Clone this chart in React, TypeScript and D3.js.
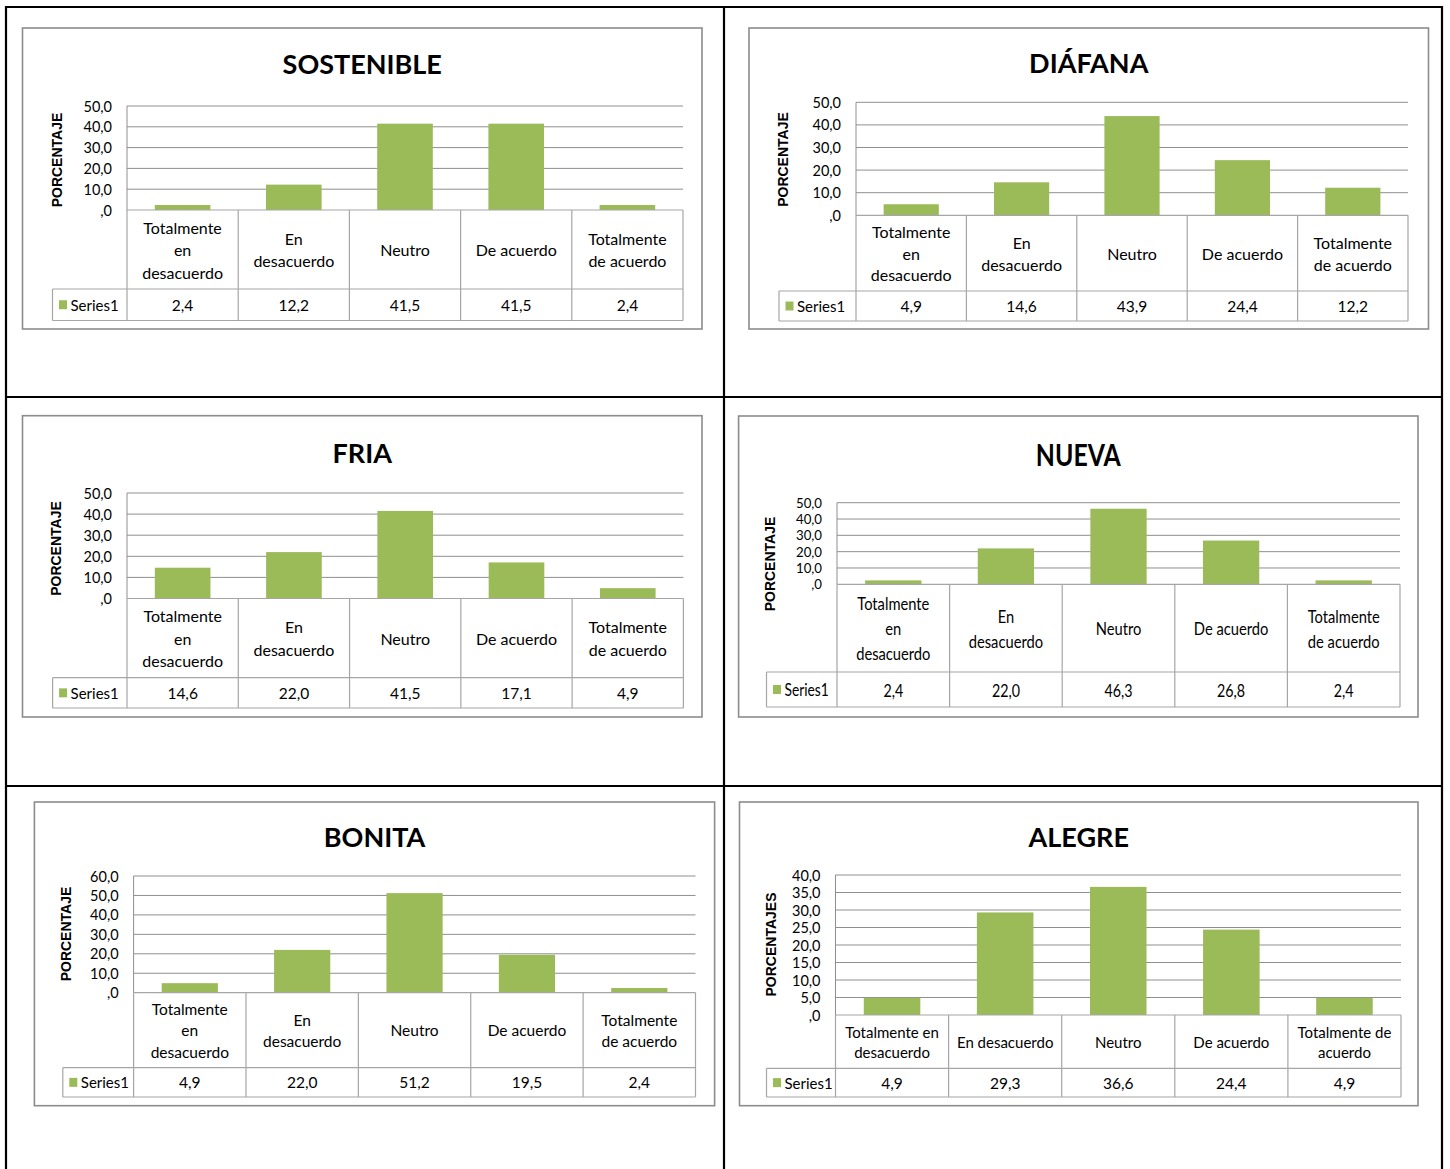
import React from "react";
import * as d3 from "d3";

// ---------- DATA ----------
const CATEGORIES = ["Totalmente en desacuerdo", "En desacuerdo", "Neutro", "De acuerdo", "Totalmente de acuerdo"];
const CATEGORY_LINES = [["Totalmente", "en", "desacuerdo"], ["En", "desacuerdo"], ["Neutro"], ["De acuerdo"], ["Totalmente", "de acuerdo"]];
const CATEGORY_LINES_WIDE = [["Totalmente en", "desacuerdo"], ["En desacuerdo"], ["Neutro"], ["De acuerdo"], ["Totalmente de", "acuerdo"]];
const SERIES_NAME = "Series1";
const TITLES = ["SOSTENIBLE", "DIÁFANA", "FRIA", "NUEVA", "BONITA", "ALEGRE"];
const Y_TITLES = ["PORCENTAJE", "PORCENTAJE", "PORCENTAJE", "PORCENTAJE", "PORCENTAJE", "PORCENTAJES"];
const SOSTENIBLE = [2.4, 12.2, 41.5, 41.5, 2.4];
const DIAFANA = [4.9, 14.6, 43.9, 24.4, 12.2];
const FRIA = [14.6, 22.0, 41.5, 17.1, 4.9];
const NUEVA = [2.4, 22.0, 46.3, 26.8, 2.4];
const BONITA = [4.9, 22.0, 51.2, 19.5, 2.4];
const ALEGRE = [4.9, 29.3, 36.6, 24.4, 4.9];
const SERIES = [SOSTENIBLE, DIAFANA, FRIA, NUEVA, BONITA, ALEGRE];
const Y_MAX = [50, 50, 50, 50, 60, 40];
const Y_STEP = [10, 10, 10, 10, 10, 5];
const LABEL_SETS = [CATEGORY_LINES, CATEGORY_LINES, CATEGORY_LINES, CATEGORY_LINES, CATEGORY_LINES, CATEGORY_LINES_WIDE];

// ---------- LAYOUT (positions only) ----------
type Lay = {
  frame: number[]; plot: number[]; catB: number; serB: number; legL: number;
  titleY: number; yLab: number[]; lineH: number; sx: number; sy: number; catFont: number; tickFont: number; tickSx: number; tickSy: number;
};
const LAYOUT: Lay[] = [
  { frame: [22.5, 28, 702, 329], plot: [127, 683, 106, 210], catB: 289, serB: 320.5, legL: 52.5, titleY: 63, yLab: [56.5, 160], lineH: 22.5, sx: 1, sy: 1, catFont: 16, tickFont: 14.5, tickSx: 1, tickSy: 1 },
  { frame: [749, 28, 1428.5, 329], plot: [856, 1408, 102.3, 215.3], catB: 291, serB: 321, legL: 779, titleY: 62, yLab: [783, 159.5], lineH: 21.7, sx: 1, sy: 1, catFont: 16, tickFont: 14.5, tickSx: 1, tickSy: 1 },
  { frame: [22.5, 415.7, 702, 717], plot: [127, 683.4, 493, 598.5], catB: 677.7, serB: 708, legL: 52.6, titleY: 452, yLab: [56, 548.5], lineH: 22.7, sx: 1, sy: 1, catFont: 16, tickFont: 14.5, tickSx: 1, tickSy: 1 },
  { frame: [738.6, 416, 1418, 717], plot: [837, 1400, 502.7, 584.3], catB: 672, serB: 707, legL: 766.5, titleY: 455, yLab: [770, 564], lineH: 25, sx: 0.92, sy: 1.12, catFont: 16, tickFont: 13.5, tickSx: 0.98, tickSy: 1 },
  { frame: [34.4, 802, 714.6, 1105.7], plot: [133.6, 695.5, 876, 992.7], catB: 1067.7, serB: 1097, legL: 62.8, titleY: 836.7, yLab: [66, 934], lineH: 21.3, sx: 1, sy: 1, catFont: 15.5, tickFont: 14.5, tickSx: 1, tickSy: 1 },
  { frame: [739.5, 802, 1418, 1105.7], plot: [835.5, 1401, 875, 1015], catB: 1068.3, serB: 1097, legL: 766.5, titleY: 836.7, yLab: [770.5, 944.5], lineH: 20, sx: 1, sy: 1, catFont: 15, tickFont: 14.5, tickSx: 1, tickSy: 1 },
];

const GREEN = "#9BBB59";
const GRID = "#8f8f8f";
const TABLE = "#a6a6a6";
const FONT = "Lato, 'Open Sans', sans-serif";

const fmt = (v: number) => (v === 0 ? ",0" : v.toFixed(1).replace(".", ","));

function T(props: { x: number; y: number; sx: number; sy: number; anchor?: string; size: number; weight?: number | string; family?: string; children: React.ReactNode }) {
  const { x, y, sx, sy, anchor = "middle", size, weight = 400, family = FONT, children } = props;
  return (
    <text
      transform={`translate(${x},${y}) scale(${sx},${sy})`}
      textAnchor={anchor}
      dominantBaseline="central"
      fontSize={size}
      fontWeight={weight}
      fontFamily={family}
      fill="#000"
    >
      {children}
    </text>
  );
}

function Chart({ idx }: { idx: number }) {
  const L = LAYOUT[idx];
  const values = SERIES[idx];
  const labels = LABEL_SETS[idx];
  const [pl, pr, pt, pb] = L.plot;
  const y = d3.scaleLinear().domain([0, Y_MAX[idx]]).range([pb, pt]);
  const ticks = d3.range(0, Y_MAX[idx] + Y_STEP[idx] / 2, Y_STEP[idx]);
  const x = d3.scaleBand<string>().domain(CATEGORIES).range([pl, pr]).paddingInner(0.5).paddingOuter(0.25);
  const col = d3.scaleBand<string>().domain(CATEGORIES).range([pl, pr]);
  const bounds = CATEGORIES.map((c) => col(c) as number).concat([pr]);
  const [fx1, fy1, fx2, fy2] = L.frame;
  const catMid = (pb + L.catB) / 2;
  const serMid = (L.catB + L.serB) / 2;
  return (
    <g>
      <rect x={fx1} y={fy1} width={fx2 - fx1} height={fy2 - fy1} fill="#fff" stroke="#8c8c8c" strokeWidth={1.6} />
      <T x={(fx1 + fx2) / 2} y={L.titleY} sx={L.sx} sy={L.sy} size={27} weight={700}>{TITLES[idx]}</T>
      {/* y axis title */}
      <text
        transform={`translate(${L.yLab[0]},${L.yLab[1]}) rotate(-90)`}
        textAnchor="middle"
        dominantBaseline="central"
        fontSize={14}
        fontWeight={700}
        fontFamily="'Liberation Sans', Arial, sans-serif"
      >
        {Y_TITLES[idx]}
      </text>
      {/* gridlines */}
      {ticks.map((t) => (
        <g key={t}>
          {t > 0 && <line x1={pl} x2={pr} y1={y(t)} y2={y(t)} stroke={GRID} strokeWidth={1} />}
          <T x={pl - 15} y={y(t)} sx={L.tickSx} sy={L.tickSy} anchor="end" size={L.tickFont}>{fmt(t)}</T>
        </g>
      ))}
      <line x1={pl} x2={pl} y1={pt} y2={pb} stroke={GRID} strokeWidth={1} />
      {/* bars */}
      {CATEGORIES.map((c, i) => (
        <rect key={c} x={x(c)} y={y(values[i])} width={x.bandwidth()} height={pb - y(values[i])} fill={GREEN} />
      ))}
      {/* data table */}
      <line x1={pl} x2={pr} y1={pb} y2={pb} stroke={TABLE} strokeWidth={1.2} />
      <line x1={L.legL} x2={pr} y1={L.catB} y2={L.catB} stroke={TABLE} strokeWidth={1.2} />
      <line x1={L.legL} x2={pr} y1={L.serB} y2={L.serB} stroke={TABLE} strokeWidth={1.2} />
      <line x1={L.legL} x2={L.legL} y1={L.catB} y2={L.serB} stroke={TABLE} strokeWidth={1.2} />
      {bounds.map((b, i) => (
        <line key={i} x1={b} x2={b} y1={pb} y2={L.serB} stroke={TABLE} strokeWidth={1.2} />
      ))}
      {CATEGORIES.map((c, i) => {
        const cx = (col(c) as number) + col.bandwidth() / 2;
        const lines = labels[i];
        const start = catMid - ((lines.length - 1) * L.lineH) / 2;
        return (
          <g key={c}>
            {lines.map((ln, j) => (
              <T key={j} x={cx} y={start + j * L.lineH} sx={L.sx} sy={L.sy} size={L.catFont}>{ln}</T>
            ))}
            <T x={cx} y={serMid} sx={L.sx} sy={L.sy} size={15.5}>{fmt(values[i])}</T>
          </g>
        );
      })}
      <rect x={L.legL + 6.5} y={serMid - 4.5} width={8} height={9} fill={GREEN} />
      <T x={L.legL + 18} y={serMid} sx={L.sx} sy={L.sy} anchor="start" size={15}>{SERIES_NAME}</T>
    </g>
  );
}

export default function App() {
  return (
    <svg
      width={1450}
      height={1169}
      style={{ position: "absolute", left: 0, top: 0, background: "#fff" }}
    >
      <rect x={0} y={0} width={1450} height={1169} fill="#fff" />
      {TITLES.map((_, i) => (
        <Chart key={i} idx={i} />
      ))}
      {/* outer table borders */}
      <g stroke="#000" strokeWidth={2.2}>
        <line x1={5} x2={1443} y1={7} y2={7} />
        <line x1={5} x2={1443} y1={397} y2={397} />
        <line x1={5} x2={1443} y1={786} y2={786} />
        <line x1={6} x2={6} y1={6} y2={1169} />
        <line x1={724} x2={724} y1={6} y2={1169} />
        <line x1={1442} x2={1442} y1={6} y2={1169} />
      </g>
    </svg>
  );
}
